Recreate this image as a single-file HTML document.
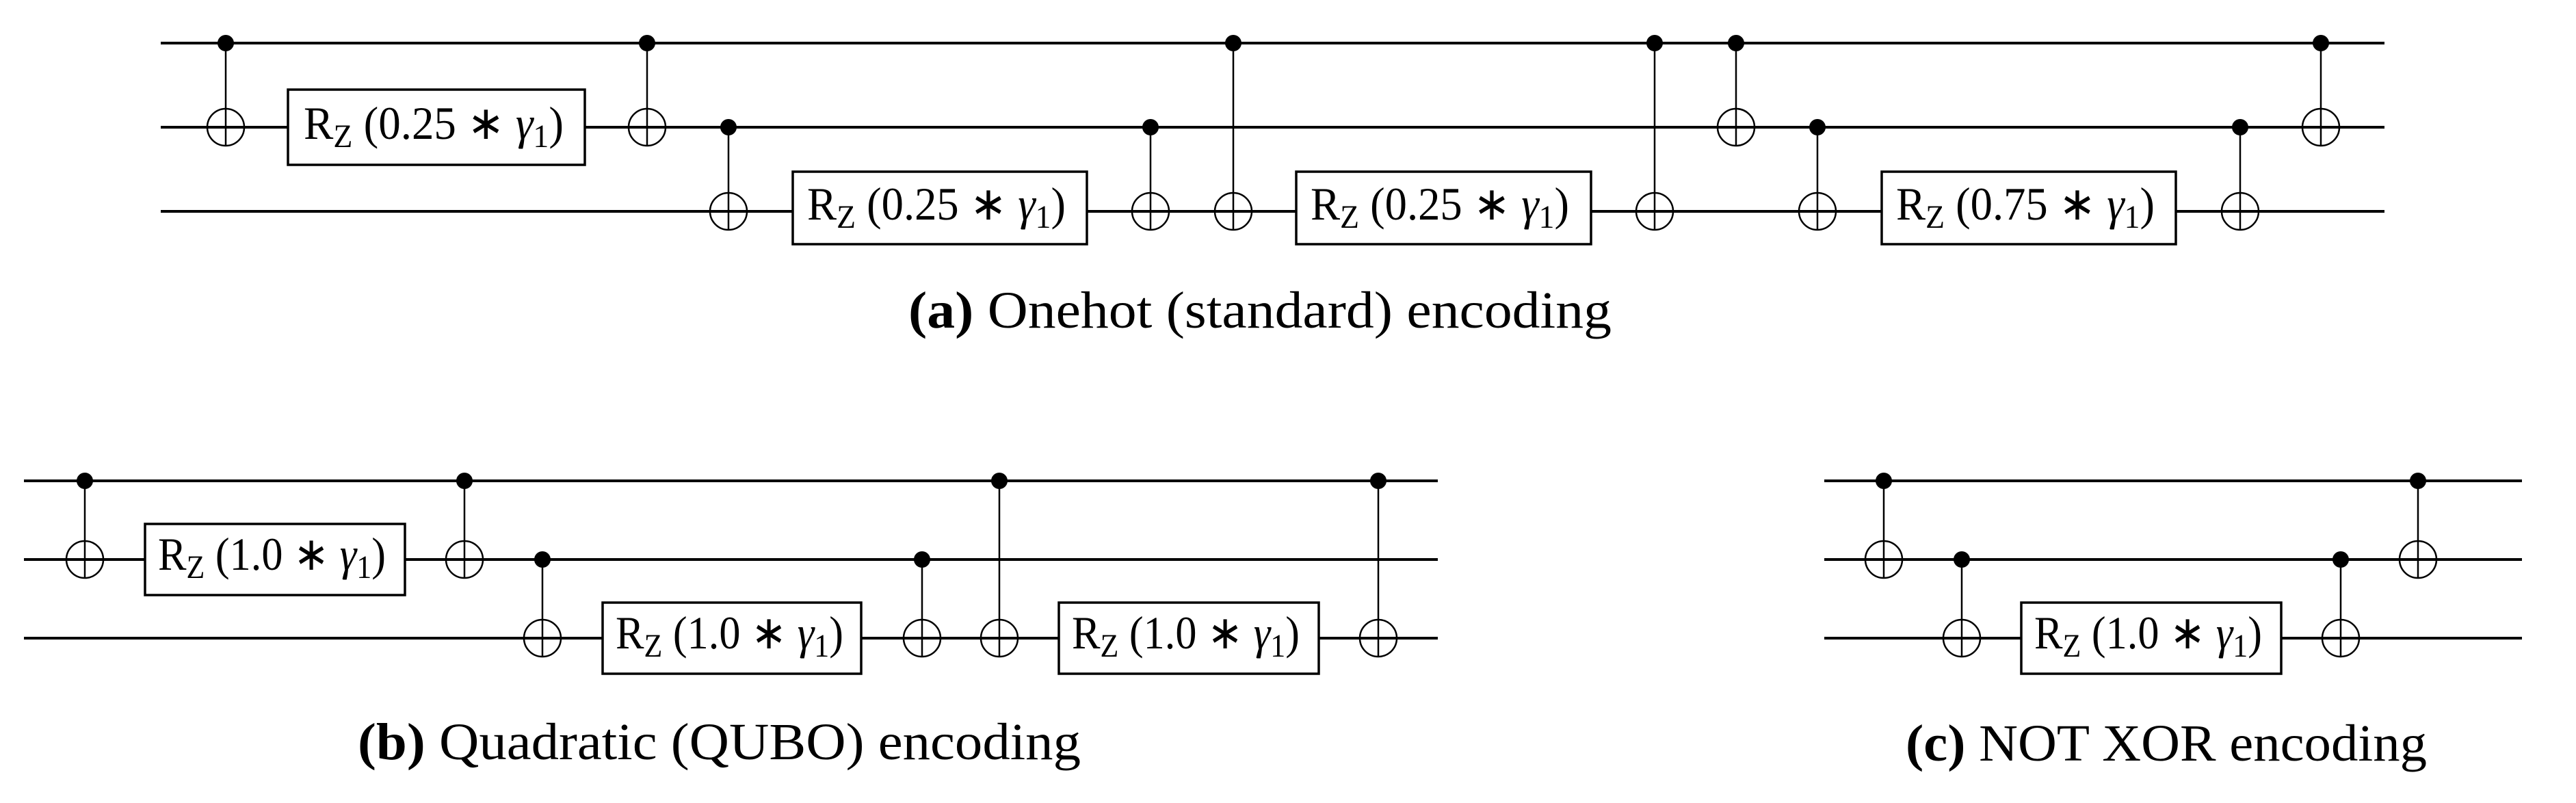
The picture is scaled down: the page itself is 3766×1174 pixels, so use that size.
<!DOCTYPE html>
<html><head><meta charset="utf-8"><style>html,body{margin:0;padding:0;background:#fff}svg{display:block}</style></head>
<body>
<svg width="3766" height="1174" viewBox="0 0 3766 1174" xmlns="http://www.w3.org/2000/svg" font-family="Liberation Serif, serif">
<g stroke="#000" stroke-width="4">
<line x1="235" y1="63" x2="3486" y2="63"/><line x1="235" y1="186" x2="3486" y2="186"/><line x1="235" y1="309" x2="3486" y2="309"/>
<line x1="35" y1="703" x2="2102" y2="703"/><line x1="35" y1="818" x2="2102" y2="818"/><line x1="35" y1="933" x2="2102" y2="933"/>
<line x1="2667" y1="703" x2="3687" y2="703"/><line x1="2667" y1="818" x2="3687" y2="818"/><line x1="2667" y1="933" x2="3687" y2="933"/>
</g>
<g stroke="#000" stroke-width="2.5" fill="none">
<!-- (a) CNOTs -->
<line x1="330" y1="63" x2="330" y2="213"/><circle cx="330" cy="186" r="27"/>
<line x1="946" y1="63" x2="946" y2="213"/><circle cx="946" cy="186" r="27"/>
<line x1="1065" y1="186" x2="1065" y2="336"/><circle cx="1065" cy="309" r="27"/>
<line x1="1682" y1="186" x2="1682" y2="336"/><circle cx="1682" cy="309" r="27"/>
<line x1="1803" y1="63" x2="1803" y2="336"/><circle cx="1803" cy="309" r="27"/>
<line x1="2419" y1="63" x2="2419" y2="336"/><circle cx="2419" cy="309" r="27"/>
<line x1="2538" y1="63" x2="2538" y2="213"/><circle cx="2538" cy="186" r="27"/>
<line x1="2657" y1="186" x2="2657" y2="336"/><circle cx="2657" cy="309" r="27"/>
<line x1="3275" y1="186" x2="3275" y2="336"/><circle cx="3275" cy="309" r="27"/>
<line x1="3393" y1="63" x2="3393" y2="213"/><circle cx="3393" cy="186" r="27"/>
<!-- (b) -->
<line x1="124" y1="703" x2="124" y2="845"/><circle cx="124" cy="818" r="27"/>
<line x1="679" y1="703" x2="679" y2="845"/><circle cx="679" cy="818" r="27"/>
<line x1="793" y1="818" x2="793" y2="960"/><circle cx="793" cy="933" r="27"/>
<line x1="1348" y1="818" x2="1348" y2="960"/><circle cx="1348" cy="933" r="27"/>
<line x1="1461" y1="703" x2="1461" y2="960"/><circle cx="1461" cy="933" r="27"/>
<line x1="2015" y1="703" x2="2015" y2="960"/><circle cx="2015" cy="933" r="27"/>
<!-- (c) -->
<line x1="2754" y1="703" x2="2754" y2="845"/><circle cx="2754" cy="818" r="27"/>
<line x1="2868" y1="818" x2="2868" y2="960"/><circle cx="2868" cy="933" r="27"/>
<line x1="3422" y1="818" x2="3422" y2="960"/><circle cx="3422" cy="933" r="27"/>
<line x1="3535" y1="703" x2="3535" y2="845"/><circle cx="3535" cy="818" r="27"/>
</g>
<g fill="#000">
<circle cx="330" cy="63" r="12"/><circle cx="946" cy="63" r="12"/><circle cx="1065" cy="186" r="12"/>
<circle cx="1682" cy="186" r="12"/><circle cx="1803" cy="63" r="12"/><circle cx="2419" cy="63" r="12"/>
<circle cx="2538" cy="63" r="12"/><circle cx="2657" cy="186" r="12"/><circle cx="3275" cy="186" r="12"/><circle cx="3393" cy="63" r="12"/>
<circle cx="124" cy="703" r="12"/><circle cx="679" cy="703" r="12"/><circle cx="793" cy="818" r="12"/>
<circle cx="1348" cy="818" r="12"/><circle cx="1461" cy="703" r="12"/><circle cx="2015" cy="703" r="12"/>
<circle cx="2754" cy="703" r="12"/><circle cx="2868" cy="818" r="12"/><circle cx="3422" cy="818" r="12"/><circle cx="3535" cy="703" r="12"/>
</g>
<g stroke="#000" stroke-width="3.5" fill="#fff">
<rect x="421" y="131" width="434" height="110"/>
<rect x="1159" y="251" width="430" height="106"/>
<rect x="1895" y="251" width="431" height="106"/>
<rect x="2751" y="251" width="430" height="106"/>
<rect x="212" y="766" width="380" height="104"/>
<rect x="881" y="881" width="378" height="104"/>
<rect x="1548" y="881" width="380" height="104"/>
<rect x="2955" y="881" width="380" height="104"/>
</g>
<g font-size="68" fill="#000">
<text x="444" y="203" textLength="380" lengthAdjust="spacingAndGlyphs">R<tspan font-size="48" dy="12">Z</tspan><tspan dy="-12"> (0.25 ∗ <tspan font-style="italic">γ</tspan></tspan><tspan font-size="48" dy="12">1</tspan><tspan dy="-12">)</tspan></text>
<text x="1180" y="321" textLength="378" lengthAdjust="spacingAndGlyphs">R<tspan font-size="48" dy="12">Z</tspan><tspan dy="-12"> (0.25 ∗ <tspan font-style="italic">γ</tspan></tspan><tspan font-size="48" dy="12">1</tspan><tspan dy="-12">)</tspan></text>
<text x="1916" y="321" textLength="378" lengthAdjust="spacingAndGlyphs">R<tspan font-size="48" dy="12">Z</tspan><tspan dy="-12"> (0.25 ∗ <tspan font-style="italic">γ</tspan></tspan><tspan font-size="48" dy="12">1</tspan><tspan dy="-12">)</tspan></text>
<text x="2772" y="321" textLength="378" lengthAdjust="spacingAndGlyphs">R<tspan font-size="48" dy="12">Z</tspan><tspan dy="-12"> (0.75 ∗ <tspan font-style="italic">γ</tspan></tspan><tspan font-size="48" dy="12">1</tspan><tspan dy="-12">)</tspan></text>
<text x="231" y="833" textLength="333" lengthAdjust="spacingAndGlyphs">R<tspan font-size="48" dy="12">Z</tspan><tspan dy="-12"> (1.0 ∗ <tspan font-style="italic">γ</tspan></tspan><tspan font-size="48" dy="12">1</tspan><tspan dy="-12">)</tspan></text>
<text x="900" y="948" textLength="333" lengthAdjust="spacingAndGlyphs">R<tspan font-size="48" dy="12">Z</tspan><tspan dy="-12"> (1.0 ∗ <tspan font-style="italic">γ</tspan></tspan><tspan font-size="48" dy="12">1</tspan><tspan dy="-12">)</tspan></text>
<text x="1567" y="948" textLength="333" lengthAdjust="spacingAndGlyphs">R<tspan font-size="48" dy="12">Z</tspan><tspan dy="-12"> (1.0 ∗ <tspan font-style="italic">γ</tspan></tspan><tspan font-size="48" dy="12">1</tspan><tspan dy="-12">)</tspan></text>
<text x="2974" y="948" textLength="333" lengthAdjust="spacingAndGlyphs">R<tspan font-size="48" dy="12">Z</tspan><tspan dy="-12"> (1.0 ∗ <tspan font-style="italic">γ</tspan></tspan><tspan font-size="48" dy="12">1</tspan><tspan dy="-12">)</tspan></text>
</g>
<g font-size="76" fill="#000">
<text x="1328" y="479" textLength="1028" lengthAdjust="spacingAndGlyphs"><tspan font-weight="bold">(a)</tspan> Onehot (standard) encoding</text>
<text x="523" y="1110" textLength="1057" lengthAdjust="spacingAndGlyphs"><tspan font-weight="bold">(b)</tspan> Quadratic (QUBO) encoding</text>
<text x="2786" y="1112" textLength="762" lengthAdjust="spacingAndGlyphs"><tspan font-weight="bold">(c)</tspan> NOT XOR encoding</text>
</g>
</svg>
</body></html>
